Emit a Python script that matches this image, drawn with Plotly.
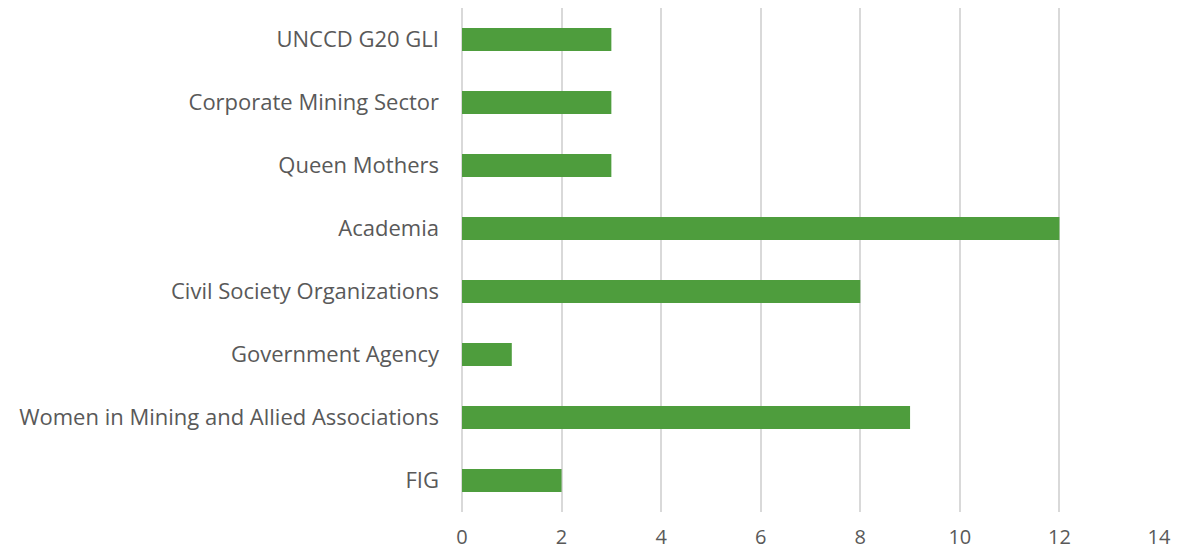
import plotly.graph_objects as go

categories = ["FIG", "Women in Mining and Allied Associations", "Government Agency",
              "Civil Society Organizations", "Academia", "Queen Mothers",
              "Corporate Mining Sector", "UNCCD G20 GLI"]
values = [2, 9, 1, 8, 12, 3, 3, 3]
x_ticks = [0, 2, 4, 6, 8, 10, 12, 14]

fig = go.Figure(go.Bar(
    x=values, y=categories, orientation="h",
    marker=dict(color="#4E9D3D", line=dict(width=0)),
))
fig.update_layout(
    width=1171, height=544,
    margin=dict(l=454, r=20, t=0, b=40),
    plot_bgcolor="white", paper_bgcolor="white",
    bargap=0.635, showlegend=False,
    font=dict(family="Open Sans, sans-serif", size=21, color="#595959"),
)
fig.update_xaxes(range=[0, 14], tickvals=x_ticks, showgrid=True, gridcolor="#D9D9D9",
                 gridwidth=2, zeroline=True, zerolinecolor="#D9D9D9", zerolinewidth=2,
                 showline=False, ticks="", ticklabelstandoff=11, fixedrange=True,
                 tickfont=dict(size=20), automargin=False)
fig.update_yaxes(categoryorder="array", categoryarray=categories, showgrid=False,
                 showline=False, ticks="", ticklabelstandoff=22, fixedrange=True,
                 tickfont=dict(size=22), automargin=False)
fig.write_html("out.html")
